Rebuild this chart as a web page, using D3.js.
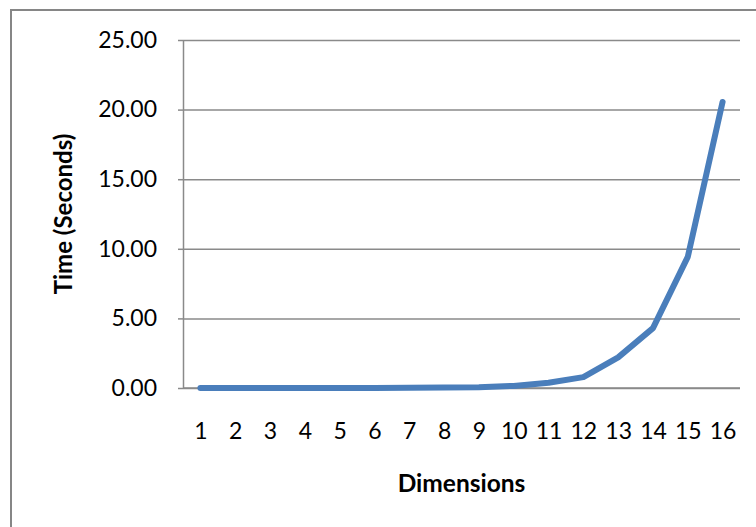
<!DOCTYPE html>
<html>
<head>
<meta charset="utf-8">
<script src="https://cdn.jsdelivr.net/npm/d3@7"></script>
<style>
  html, body { margin: 0; padding: 0; background: #fff; }
  svg { display: block; }
  text { font-family: Lato, "Open Sans", sans-serif; fill: #000; }
</style>
</head>
<body>
<svg id="chart" width="756" height="527"></svg>
<script>
// Run time per number of dimensions
const dimensions = ["1","2","3","4","5","6","7","8","9","10","11","12","13","14","15","16"];
const seconds = [0.00, 0.00, 0.00, 0.00, 0.00, 0.005, 0.01, 0.03, 0.06, 0.15, 0.38, 0.78, 2.20, 4.30, 9.42, 20.55];
const yTicks = [0, 5, 10, 15, 20, 25];
const xTitle = "Dimensions";
const yTitle = "Time (Seconds)";

const svg = d3.select("#chart");
const W = 756, H = 527;
const plot = { left: 183, top: 40, right: 740, bottom: 388 };

// outer chart frame
svg.append("rect")
  .attr("x", 11).attr("y", 10)
  .attr("width", W + 10).attr("height", H + 10)
  .attr("fill", "none")
  .attr("stroke", "#868686")
  .attr("stroke-width", 2);

const x = d3.scalePoint()
  .domain(dimensions)
  .range([plot.left, plot.right])
  .padding(0.5);

const y = d3.scaleLinear()
  .domain([0, 25])
  .range([plot.bottom, plot.top]);

// horizontal gridlines
const grid = svg.append("g")
  .attr("transform", `translate(${plot.left},0)`)
  .call(d3.axisLeft(y).tickValues(yTicks).tickSize(-(plot.right - plot.left)).tickFormat(""));
grid.select(".domain").remove();
grid.selectAll("line").attr("stroke", "#8a8a8a").attr("stroke-width", 1.5);

// y axis
const yAxis = svg.append("g")
  .attr("transform", `translate(${plot.left},0)`)
  .call(d3.axisLeft(y).tickValues(yTicks).tickSize(5).tickSizeOuter(0)
    .tickPadding(21).tickFormat(d3.format(".2f")));
yAxis.select(".domain").attr("stroke", "#8a8a8a").attr("stroke-width", 1.5);
yAxis.selectAll("line").attr("stroke", "#8a8a8a").attr("stroke-width", 1.5);
yAxis.selectAll("text")
  .style("font-family", "Lato, sans-serif")
  .style("font-size", "23px")
  .attr("fill", "#000");

// x axis
const xAxis = svg.append("g")
  .attr("transform", `translate(0,${plot.bottom})`)
  .call(d3.axisBottom(x).tickSize(0).tickSizeOuter(0).tickPadding(35));
xAxis.select(".domain").attr("stroke", "#8a8a8a").attr("stroke-width", 1.5)
  .attr("d", `M${plot.left},0H${plot.right}`);
xAxis.selectAll("text")
  .style("font-family", "Lato, sans-serif")
  .style("font-size", "23px")
  .attr("fill", "#000");

// series line
const line = d3.line()
  .x((d, i) => x(dimensions[i]))
  .y(d => y(d));

svg.append("path")
  .datum(seconds)
  .attr("d", line)
  .attr("fill", "none")
  .attr("stroke", "#4a7ebb")
  .attr("stroke-width", 6)
  .attr("stroke-linejoin", "round")
  .attr("stroke-linecap", "round");

// axis titles
svg.append("text")
  .attr("x", (plot.left + plot.right) / 2)
  .attr("y", 492)
  .attr("text-anchor", "middle")
  .style("font-weight", "bold")
  .style("font-size", "24.5px")
  .text(xTitle);

svg.append("text")
  .attr("transform", `translate(72,${(plot.top + plot.bottom) / 2}) rotate(-90)`)
  .attr("text-anchor", "middle")
  .style("font-weight", "bold")
  .style("font-size", "24px")
  .text(yTitle);
</script>
</body>
</html>
